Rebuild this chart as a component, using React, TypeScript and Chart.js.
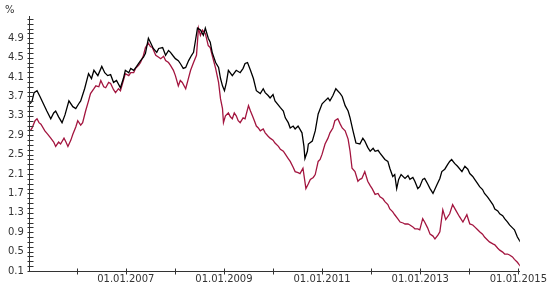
import React, { useEffect, useRef } from "react";
import { Chart, registerables } from "chart.js";

Chart.register(...registerables);

const blackYears = [
  2005.05, 2005.09, 2005.13, 2005.19, 2005.25, 2005.31, 2005.39, 2005.47, 2005.53, 2005.57,
  2005.63, 2005.70, 2005.76, 2005.84, 2005.92, 2005.98, 2006.04, 2006.08, 2006.16, 2006.24,
  2006.30, 2006.35, 2006.43, 2006.51, 2006.57, 2006.63, 2006.69, 2006.75, 2006.81, 2006.89,
  2006.95, 2006.99, 2007.06, 2007.10, 2007.16, 2007.22, 2007.30, 2007.36, 2007.40, 2007.46,
  2007.50, 2007.56, 2007.63, 2007.67, 2007.75, 2007.81, 2007.87, 2007.91, 2007.97, 2008.01,
  2008.07, 2008.11, 2008.17, 2008.22, 2008.28, 2008.34, 2008.38, 2008.42, 2008.46, 2008.52,
  2008.58, 2008.62, 2008.68, 2008.72, 2008.76, 2008.83, 2008.89, 2008.93, 2008.97, 2009.01,
  2009.05, 2009.09, 2009.17, 2009.25, 2009.33, 2009.39, 2009.43, 2009.48, 2009.54, 2009.60,
  2009.66, 2009.74, 2009.80, 2009.84, 2009.90, 2009.94, 2010.00, 2010.04, 2010.15, 2010.21,
  2010.25, 2010.31, 2010.35, 2010.41, 2010.45, 2010.51, 2010.59, 2010.63, 2010.65, 2010.70,
  2010.72, 2010.80, 2010.86, 2010.92, 2011.00, 2011.06, 2011.12, 2011.16, 2011.22, 2011.28,
  2011.37, 2011.41, 2011.47, 2011.53, 2011.57, 2011.63, 2011.69, 2011.77, 2011.83, 2011.87,
  2011.93, 2011.98, 2012.04, 2012.08, 2012.14, 2012.18, 2012.28, 2012.34, 2012.38, 2012.44,
  2012.48, 2012.52, 2012.56, 2012.61, 2012.69, 2012.75, 2012.79, 2012.85, 2012.89, 2012.95,
  2012.99, 2013.05, 2013.09, 2013.15, 2013.20, 2013.26, 2013.34, 2013.40, 2013.44, 2013.50,
  2013.56, 2013.60, 2013.64, 2013.70, 2013.76, 2013.85, 2013.91, 2013.97, 2014.01, 2014.07,
  2014.11, 2014.17, 2014.21, 2014.27, 2014.31, 2014.37, 2014.41, 2014.48, 2014.52, 2014.58,
  2014.62, 2014.68, 2014.72, 2014.78, 2014.82, 2014.88, 2014.92, 2014.98, 2015.04,
];
const blackValues = [
  3.55, 3.61, 3.78, 3.82, 3.70, 3.57, 3.40, 3.24, 3.36, 3.40,
  3.28, 3.16, 3.32, 3.61, 3.49, 3.45, 3.55, 3.61, 3.86, 4.17,
  4.07, 4.24, 4.13, 4.32, 4.19, 4.13, 4.15, 3.99, 4.03, 3.88,
  4.07, 4.24, 4.19, 4.28, 4.24, 4.32, 4.44, 4.51, 4.59, 4.90,
  4.82, 4.69, 4.61, 4.69, 4.71, 4.55, 4.65, 4.61, 4.53, 4.48,
  4.44, 4.38, 4.28, 4.30, 4.44, 4.55, 4.61, 4.86, 5.11, 5.07,
  4.96, 5.11, 4.90, 4.82, 4.61, 4.40, 4.30, 4.07, 3.92, 3.82,
  3.99, 4.24, 4.13, 4.24, 4.19, 4.28, 4.38, 4.40, 4.24, 4.07,
  3.82, 3.76, 3.86, 3.78, 3.72, 3.67, 3.74, 3.61, 3.47, 3.40,
  3.26, 3.16, 3.05, 3.09, 3.03, 3.09, 2.95, 2.67, 2.42, 2.57,
  2.72, 2.78, 2.99, 3.34, 3.55, 3.61, 3.67, 3.61, 3.72, 3.86,
  3.76, 3.70, 3.51, 3.40, 3.26, 2.99, 2.74, 2.72, 2.84, 2.78,
  2.65, 2.57, 2.63, 2.57, 2.59, 2.53, 2.40, 2.36, 2.22, 2.05,
  2.09, 1.80, 1.99, 2.09, 2.01, 2.07, 1.99, 2.03, 1.95, 1.80,
  1.84, 1.99, 2.01, 1.90, 1.80, 1.70, 1.88, 2.01, 2.15, 2.20,
  2.30, 2.36, 2.40, 2.32, 2.26, 2.15, 2.26, 2.20, 2.11, 2.05,
  1.99, 1.90, 1.84, 1.78, 1.70, 1.63, 1.57, 1.47, 1.38, 1.34,
  1.28, 1.24, 1.18, 1.11, 1.05, 0.99, 0.95, 0.80, 0.70,
];

const redYears = [
  2005.05, 2005.09, 2005.15, 2005.19, 2005.23, 2005.27, 2005.35, 2005.41, 2005.47, 2005.53,
  2005.57, 2005.63, 2005.67, 2005.74, 2005.78, 2005.82, 2005.88, 2005.92, 2005.98, 2006.02,
  2006.08, 2006.12, 2006.18, 2006.24, 2006.28, 2006.35, 2006.39, 2006.45, 2006.49, 2006.55,
  2006.59, 2006.65, 2006.69, 2006.75, 2006.79, 2006.85, 2006.89, 2006.95, 2006.99, 2007.06,
  2007.10, 2007.16, 2007.20, 2007.26, 2007.30, 2007.36, 2007.40, 2007.46, 2007.50, 2007.54,
  2007.61, 2007.67, 2007.71, 2007.77, 2007.81, 2007.87, 2007.91, 2007.97, 2008.01, 2008.07,
  2008.11, 2008.15, 2008.22, 2008.28, 2008.32, 2008.38, 2008.44, 2008.48, 2008.52, 2008.56,
  2008.62, 2008.68, 2008.72, 2008.76, 2008.83, 2008.89, 2008.93, 2008.97, 2008.99, 2009.03,
  2009.09, 2009.13, 2009.17, 2009.21, 2009.25, 2009.29, 2009.33, 2009.39, 2009.43, 2009.50,
  2009.54, 2009.58, 2009.62, 2009.66, 2009.70, 2009.74, 2009.80, 2009.84, 2009.90, 2009.94,
  2010.00, 2010.04, 2010.11, 2010.15, 2010.21, 2010.25, 2010.31, 2010.35, 2010.41, 2010.45,
  2010.51, 2010.55, 2010.61, 2010.67, 2010.72, 2010.76, 2010.82, 2010.86, 2010.92, 2010.96,
  2011.00, 2011.06, 2011.12, 2011.16, 2011.22, 2011.26, 2011.32, 2011.37, 2011.41, 2011.47,
  2011.53, 2011.57, 2011.61, 2011.67, 2011.73, 2011.77, 2011.81, 2011.87, 2011.93, 2011.98,
  2012.02, 2012.08, 2012.14, 2012.18, 2012.24, 2012.28, 2012.34, 2012.38, 2012.44, 2012.48,
  2012.54, 2012.59, 2012.65, 2012.69, 2012.75, 2012.79, 2012.85, 2012.89, 2012.95, 2012.99,
  2013.05, 2013.09, 2013.15, 2013.20, 2013.26, 2013.30, 2013.36, 2013.40, 2013.46, 2013.52,
  2013.60, 2013.66, 2013.72, 2013.80, 2013.87, 2013.95, 2014.01, 2014.07, 2014.11, 2014.17,
  2014.21, 2014.27, 2014.31, 2014.37, 2014.41, 2014.48, 2014.52, 2014.58, 2014.62, 2014.68,
  2014.72, 2014.78, 2014.82, 2014.88, 2014.92, 2014.98, 2015.04,
];
const redValues = [
  2.99, 3.05, 3.20, 3.24, 3.16, 3.13, 2.99, 2.92, 2.84, 2.76,
  2.67, 2.76, 2.72, 2.84, 2.76, 2.67, 2.80, 2.92, 3.07, 3.20,
  3.11, 3.16, 3.40, 3.61, 3.76, 3.86, 3.92, 3.90, 4.03, 3.90,
  3.88, 3.99, 3.97, 3.84, 3.78, 3.86, 3.82, 4.03, 4.17, 4.13,
  4.19, 4.19, 4.28, 4.34, 4.40, 4.55, 4.71, 4.80, 4.73, 4.71,
  4.55, 4.51, 4.48, 4.53, 4.44, 4.40, 4.34, 4.24, 4.13, 3.92,
  4.03, 3.99, 3.86, 4.09, 4.24, 4.40, 4.55, 5.11, 4.96, 5.07,
  5.00, 4.75, 4.71, 4.55, 4.28, 3.99, 3.65, 3.45, 3.16, 3.30,
  3.36, 3.28, 3.24, 3.36, 3.30, 3.20, 3.16, 3.26, 3.24, 3.51,
  3.40, 3.30, 3.20, 3.09, 3.05, 2.99, 3.03, 2.95, 2.88, 2.84,
  2.80, 2.74, 2.67, 2.61, 2.57, 2.51, 2.42, 2.36, 2.24, 2.15,
  2.13, 2.11, 2.22, 1.80, 1.90, 1.99, 2.03, 2.09, 2.36, 2.40,
  2.51, 2.72, 2.84, 2.95, 3.05, 3.20, 3.24, 3.13, 3.05, 2.99,
  2.82, 2.57, 2.22, 2.15, 1.95, 1.99, 2.01, 2.15, 1.95, 1.86,
  1.80, 1.68, 1.70, 1.63, 1.59, 1.53, 1.47, 1.38, 1.32, 1.26,
  1.18, 1.11, 1.09, 1.07, 1.07, 1.05, 1.01, 0.97, 0.97, 0.95,
  1.18, 1.11, 0.99, 0.86, 0.82, 0.76, 0.84, 0.91, 1.36, 1.16,
  1.28, 1.47, 1.36, 1.22, 1.11, 1.26, 1.07, 1.05, 1.01, 0.95,
  0.91, 0.86, 0.80, 0.74, 0.70, 0.66, 0.64, 0.57, 0.53, 0.49,
  0.45, 0.45, 0.43, 0.39, 0.34, 0.28, 0.20,
];

const yLabelTicks = [0.1, 0.5, 0.9, 1.3, 1.7, 2.1, 2.5, 2.9, 3.3, 3.7, 4.1, 4.5, 4.9];
const yMinorTicks = Array.from({ length: 53 }, (_, i) => (i + 1) / 10);
const xLabelYears = [2007, 2009, 2011, 2013, 2015];
const xTickYears = [2006, 2007, 2008, 2009, 2010, 2011, 2012, 2013, 2014, 2015];
const unitLabel = "%";

const FONT = "'DejaVu Sans', Verdana, sans-serif";
const TEXT = "#333333";

const tickPlugin = {
  id: "crossTicks",
  afterDraw(chart: any) {
    const { ctx, chartArea, scales } = chart;
    const xs = scales.x;
    const ys = scales.y;
    ctx.save();
    ctx.strokeStyle = TEXT;
    ctx.lineWidth = 1;
    ctx.beginPath();
    const left = Math.round(chartArea.left) + 0.5;
    for (const v of yMinorTicks) {
      const py = Math.round(ys.getPixelForValue(v)) + 0.5;
      ctx.moveTo(left - 3, py);
      ctx.lineTo(left + 3, py);
    }
    const bottom = Math.round(chartArea.bottom) + 0.5;
    for (const yr of xTickYears) {
      const px = Math.round(xs.getPixelForValue(yr)) + 0.5;
      ctx.moveTo(px, bottom - 3);
      ctx.lineTo(px, bottom + 3);
    }
    ctx.stroke();
    ctx.fillStyle = TEXT;
    ctx.font = `10px ${FONT}`;
    ctx.textBaseline = "middle";
    ctx.textAlign = "left";
    ctx.fillText(unitLabel, 5, 10);
    ctx.restore();
  },
};

export default function App() {
  const ref = useRef<HTMLCanvasElement>(null);
  useEffect(() => {
    if (!ref.current) return;
    const chart = new Chart(ref.current, {
      type: "line",
      data: {
        datasets: [
          {
            data: blackYears.map((x, i) => ({ x, y: blackValues[i] })),
            borderColor: "#000000",
            borderWidth: 1.3,
            pointRadius: 0,
            tension: 0,
            fill: false,
          },
          {
            data: redYears.map((x, i) => ({ x, y: redValues[i] })),
            borderColor: "#a3153f",
            borderWidth: 1.3,
            pointRadius: 0,
            tension: 0,
            fill: false,
          },
        ],
      },
      options: {
        animation: false,
        responsive: false,
        devicePixelRatio: 1,
        layout: { padding: { left: 2, top: 16, right: -3, bottom: -1 } },
        plugins: { legend: { display: false }, tooltip: { enabled: false } },
        scales: {
          x: {
            type: "linear",
            min: 2005.045,
            max: 2015.03,
            afterBuildTicks: (axis: any) => {
              axis.ticks = xLabelYears.map((v) => ({ value: v }));
            },
            ticks: {
              autoSkip: false,
              maxRotation: 0,
              padding: 2,
              color: TEXT,
              font: { family: FONT, size: 10 },
              callback: (v: any) => `01.01.${v}`,
            },
            grid: { display: false, drawTicks: false },
            border: { display: true, color: TEXT, width: 1 },
          },
          y: {
            type: "linear",
            min: 0.1,
            max: 5.36,
            afterBuildTicks: (axis: any) => {
              axis.ticks = yLabelTicks.map((v) => ({ value: v }));
            },
            ticks: {
              autoSkip: false,
              padding: 6,
              color: TEXT,
              font: { family: FONT, size: 10 },
              callback: (v: any) => Number(v).toFixed(1),
            },
            grid: { display: false, drawTicks: false },
            border: { display: true, color: TEXT, width: 1 },
          },
        },
      },
      plugins: [tickPlugin],
    });
    return () => chart.destroy();
  }, []);
  return (
    <div style={{ position: "absolute", left: 0, top: 0, width: 549, height: 286, background: "#fff" }}>
      <canvas ref={ref} width={549} height={286} />
    </div>
  );
}
